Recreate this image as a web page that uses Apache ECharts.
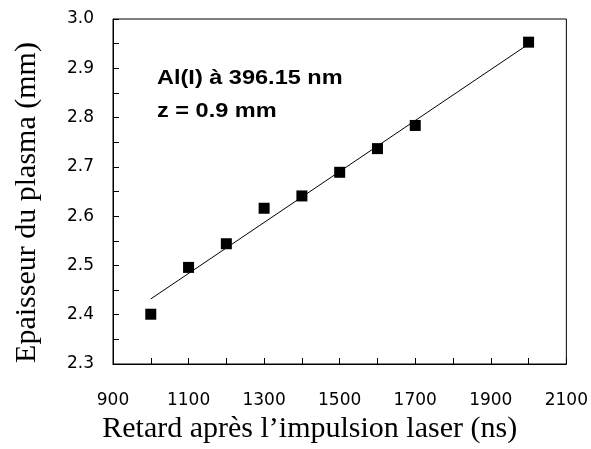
<!DOCTYPE html>
<html><head><meta charset="utf-8">
<script src="https://cdn.jsdelivr.net/npm/echarts@6/dist/echarts.min.js"></script>
<style>html,body{margin:0;padding:0;background:#fff}#c{width:591px;height:449px}</style>
</head><body><div id="c"></div>
<script>
const delays = [1000, 1100, 1200, 1300, 1400, 1500, 1600, 1700, 2000];
const thickness = [2.401, 2.496, 2.544, 2.616, 2.641, 2.689, 2.737, 2.784, 2.953];
const fitX = [1000, 1990];
const fitY = [2.432, 2.944];
const xTitle = 'Retard après l\u2019impulsion laser (ns)';
const yTitle = 'Epaisseur du plasma (mm)';
const noteLines = ['Al(I) à 396.15 nm', 'z = 0.9 mm'];

const chart = echarts.init(document.getElementById('c'), null, {renderer: 'canvas'});
const tickFont = 'DejaVu Sans, Liberation Sans, Arial, sans-serif';
const noteFont = 'Liberation Sans, Arial, sans-serif';
const serif = 'Liberation Serif, Times New Roman, serif';
chart.setOption({
  animation: false,
  backgroundColor: '#fff',
  grid: {left: 113, right: 23, top: 19, bottom: 83, show: true, borderColor: '#000', borderWidth: 1, backgroundColor: 'transparent'},
  xAxis: {
    type: 'value', min: 900, max: 2100, interval: 100,
    name: xTitle, nameLocation: 'middle', nameGap: 50,
    nameTextStyle: {fontFamily: serif, fontSize: 30, color: '#000', padding: [0, 60, 0, 0]},
    axisLine: {show: true, onZero: false, lineStyle: {color: '#000', width: 1}},
    axisTick: {show: true, inside: true, length: 6, lineStyle: {color: '#000'}},
    axisLabel: {margin: 28, fontFamily: tickFont, fontSize: 17, color: '#000',
      formatter: v => (Math.round(v) % 200 === 100 ? String(v) : '')},
    splitLine: {show: false}
  },
  yAxis: {
    type: 'value', min: 2.3, max: 3.0, interval: 0.05,
    name: yTitle, nameLocation: 'middle', nameGap: 71,
    nameTextStyle: {fontFamily: serif, fontSize: 30, color: '#000', padding: [0, 22, 0, 0]},
    axisLine: {show: true, onZero: false, lineStyle: {color: '#000', width: 1}},
    axisTick: {show: true, inside: true, length: 6, lineStyle: {color: '#000'}},
    axisLabel: {margin: 19, fontFamily: tickFont, fontSize: 17, color: '#000',
      formatter: v => (Math.round(v * 100) % 10 === 0 ? v.toFixed(1) : '')},
    splitLine: {show: false}
  },
  graphic: [{
    type: 'text', x: 157, y: 62, scaleX: 1.12,
    style: {text: noteLines.join('\n'), fontFamily: noteFont, fontSize: 21, fontWeight: 'bold', lineHeight: 33, fill: '#000', align: 'left', verticalAlign: 'top'}
  }],
  series: [
    {type: 'line', data: fitX.map((x, i) => [x, fitY[i]]), symbol: 'none', lineStyle: {color: '#000', width: 1}, z: 2},
    {type: 'scatter', data: delays.map((x, i) => [x, thickness[i]]), symbol: 'rect', symbolSize: 11, itemStyle: {color: '#000', opacity: 1}, z: 3}
  ]
});
</script></body></html>
